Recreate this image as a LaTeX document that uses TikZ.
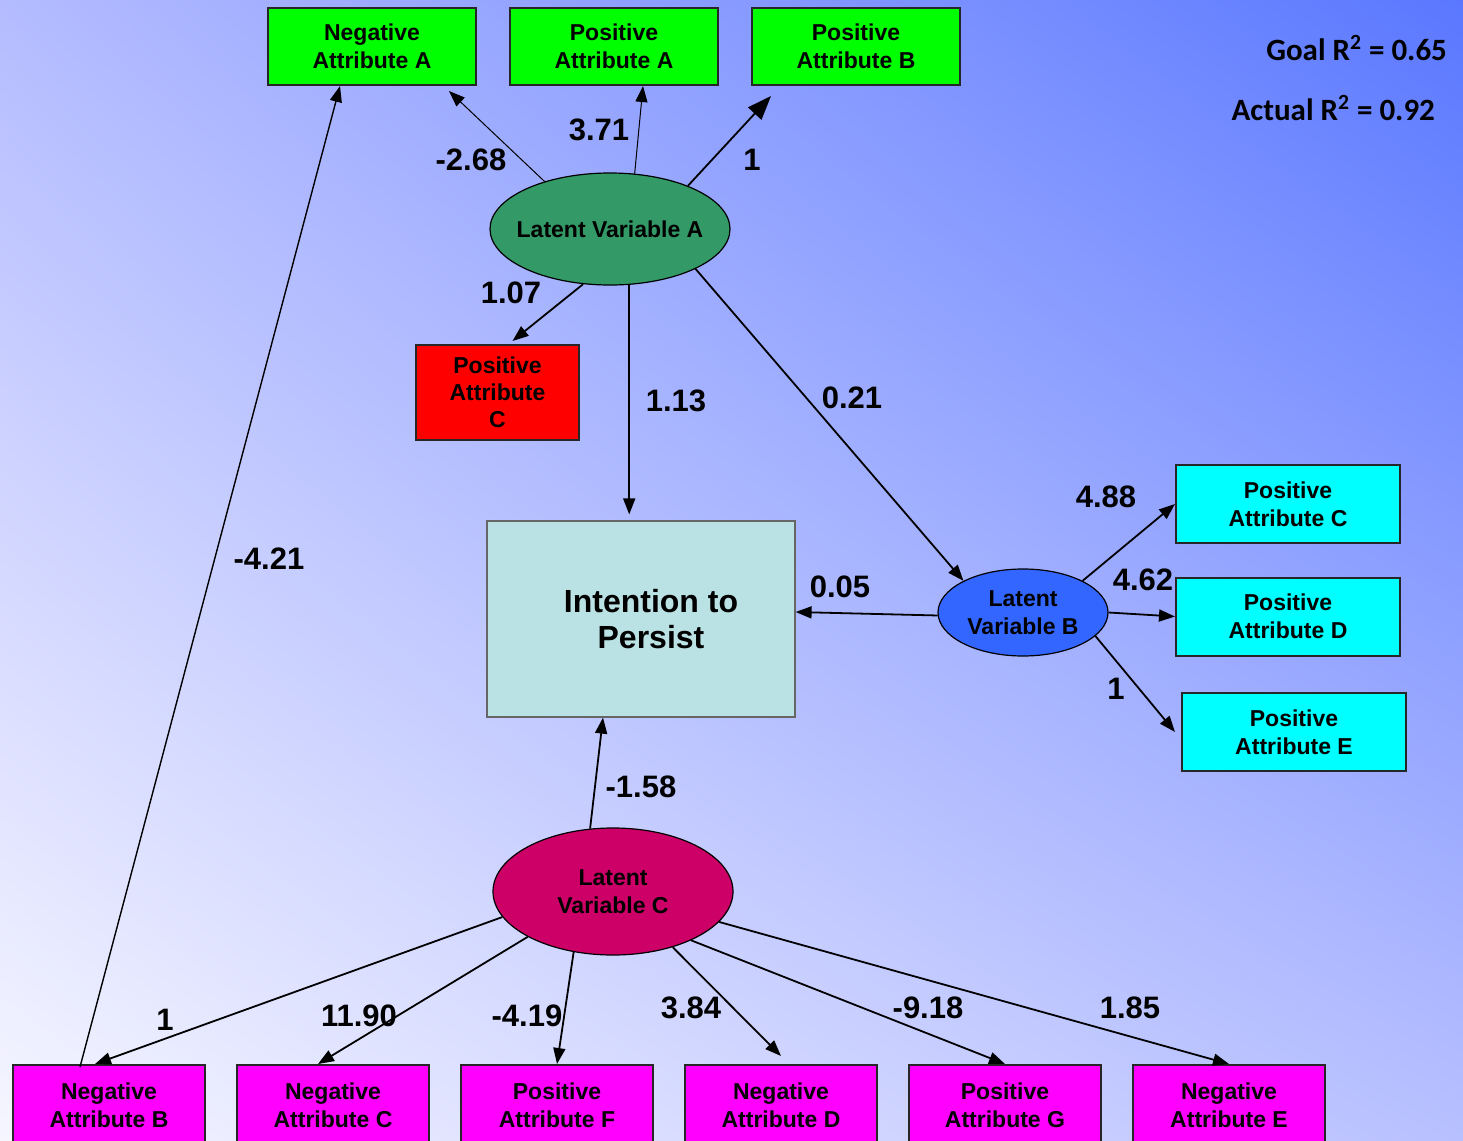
\documentclass[tikz,border=0pt]{standalone}
\usepackage{fontspec}
\setmainfont{Liberation Sans}
\newfontfamily\rsqfont{Carlito}
\usepackage{tikz}
\usetikzlibrary{shapes.geometric,arrows.meta,shadings}
\definecolor{bgtl}{HTML}{B4BCFF}
\definecolor{bgtr}{HTML}{5A78FF}
\definecolor{bgbl}{HTML}{F6F6FF}
\definecolor{bgbr}{HTML}{B8C0FF}
\definecolor{grnfill}{HTML}{00FF00}
\definecolor{cynfill}{HTML}{00FFFF}
\definecolor{magfill}{HTML}{FF00FF}
\definecolor{redfill}{HTML}{FF0000}
\definecolor{lvafill}{HTML}{339966}
\definecolor{lvbfill}{HTML}{3366FF}
\definecolor{lvcfill}{HTML}{CC0066}
\definecolor{intfill}{HTML}{BAE1E3}
\tikzstyle{ind}=[rectangle, draw=black!85, line width=1pt, inner sep=0pt, align=center, font=\bfseries\fontsize{11.5}{14}\selectfont]
\tikzstyle{grnbox}=[ind, fill=grnfill, minimum width=104pt, minimum height=38.5pt]
\tikzstyle{cynbox}=[ind, fill=cynfill, minimum width=112pt, minimum height=39pt]
\tikzstyle{magbox}=[ind, fill=magfill, minimum width=96pt, minimum height=40pt]
\tikzstyle{latent}=[ellipse, draw, line width=0.6pt, inner sep=-10pt, align=center, font=\bfseries\fontsize{11.5}{14}\selectfont]
\tikzstyle{coef}=[font=\bfseries\fontsize{15.5}{18}\selectfont]
\tikzstyle{rsq}=[anchor=east, font=\rsqfont\bfseries\fontsize{15.5}{18}\selectfont]
\tikzstyle{load}=[-{Triangle[length=8pt,width=6pt]}, line width=0.9pt]
\tikzstyle{thinload}=[load, line width=0.5pt]
\tikzstyle{bigload}=[-{Triangle[length=12pt,width=9pt]}, line width=0.9pt]

\begin{document}
\begin{tikzpicture}[x=0.5pt, y=-0.5pt]
\shade[upper left=bgtl, upper right=bgtr, lower left=bgbl, lower right=bgbr] (0,0) rectangle (1463,1141);
\useasboundingbox (0,0) rectangle (1463,1141);

% indicators of latent variable A
\node[grnbox] (naa) at (372,46.5) {Negative\\Attribute A};
\node[grnbox] (paa) at (614,46.5) {Positive\\Attribute A};
\node[grnbox] (pab) at (856,46.5) {Positive\\Attribute B};
\node[ind, fill=redfill, minimum width=81.5pt, minimum height=47.5pt, font=\bfseries\fontsize{11.5}{13.5}\selectfont]
      (pacr) at (497.5,392.5) {Positive\\Attribute\\C};

\node[latent, fill=lvafill, minimum width=120pt, minimum height=56pt] (lva) at (610,229) {Latent Variable A};
\node[latent, fill=lvbfill, minimum width=85pt, minimum height=43.5pt] (lvb) at (1023,612.5) {Latent\\Variable B};
\node[latent, fill=lvcfill, minimum width=120pt, minimum height=63.5pt] (lvc) at (613,891.5) {Latent\\Variable C};

\node[rectangle, draw=black!60, line width=0.6pt, fill=intfill, minimum width=154pt, minimum height=98pt, align=center,
      font=\bfseries\fontsize{16}{18}\selectfont] (int) at (641,619) {\hspace*{10pt}Intention to\\\hspace*{10pt}Persist};

% indicators of latent variable B
\node[cynbox] (pac) at (1288,504) {Positive\\Attribute C};
\node[cynbox] (pad) at (1288,616.5) {Positive\\Attribute D};
\node[cynbox] (pae) at (1294,732) {Positive\\Attribute E};

% indicators of latent variable C
\node[magbox] (nab) at (109,1105) {Negative\\Attribute B};
\node[magbox] (nac) at (333,1105) {Negative\\Attribute C};
\node[magbox] (paf) at (557,1105) {Positive\\Attribute F};
\node[magbox] (nad) at (781,1105) {Negative\\Attribute D};
\node[magbox] (pag) at (1005,1105) {Positive\\Attribute G};
\node[magbox] (nae) at (1229,1105) {Negative\\Attribute E};

\node[rsq] (goal) at (1454,48) {Goal R\textsuperscript{2} = 0.65};
\node[rsq] (actual) at (1442,108) {Actual R\textsuperscript{2} = 0.92};

% paths
\draw[thinload] (lva.144) -- ([xshift=-14pt,yshift=-2.5pt]naa.south east);
\draw[thinload] (lva.66) -- ([xshift=14.5pt]paa.south);
\draw[bigload] (lva.29) -- ([xshift=10pt,yshift=-5pt]pab.south west);
\draw[load] (lva.244) -- ([xshift=7.5pt,yshift=1.5pt]pacr.north);
\draw[load, shorten >=3pt] (lva.289) -- (lva.289 |- int.north);
\draw[load] (lva.335) -- (lvb.152);
\draw[load] (lvb.182) -- ([yshift=3.5pt]int.east);
\draw[load] (lvb.28) -- (pac.west);
\draw[load] (lvb.0) -- (pad.west);
\draw[load] (lvb.342) -- ([xshift=-3pt]pae.west);
\draw[load] (lvc.110) -- ([xshift=-19pt]int.south);
\draw[thinload, line width=0.7pt] ([xshift=-14.5pt,yshift=-1.5pt]nab.north) -- ([xshift=-16pt]naa.south);
\draw[load] (lvc.193) -- ([xshift=-7pt]nab.north);
\draw[load] (lvc.208) -- ([xshift=-7.5pt]nac.north);
\draw[load] (lvc.237) -- (paf.north);
\draw[load] (lvc.317) -- ([yshift=4pt]nad.north);
\draw[load] (lvc.328) -- (pag.north);
\draw[load] (lvc.344) -- (nae.north);

% coefficients
\node[coef] (w1) at (471,160) {-2.68};
\node[coef] (w2) at (599,130) {3.71};
\node[coef] (w3) at (752,160) {1};
\node[coef] (w4) at (511,293) {1.07};
\node[coef] (w5) at (676,401) {1.13};
\node[coef] (w6) at (852,398) {0.21};
\node[coef] (w7) at (840,587) {0.05};
\node[coef] (w8) at (1106,497) {4.88};
\node[coef] (w9) at (1143,580) {4.62};
\node[coef] (w10) at (1116,689) {1};
\node[coef] (w11) at (641,787) {-1.58};
\node[coef] (w12) at (269,559) {-4.21};
\node[coef] (w13) at (165,1020) {1};
\node[coef] (w14) at (359,1016) {11.90};
\node[coef] (w15) at (527,1016) {-4.19};
\node[coef] (w16) at (691,1008) {3.84};
\node[coef] (w17) at (928,1008) {-9.18};
\node[coef] (w18) at (1130,1008) {1.85};
\end{tikzpicture}
\end{document}
